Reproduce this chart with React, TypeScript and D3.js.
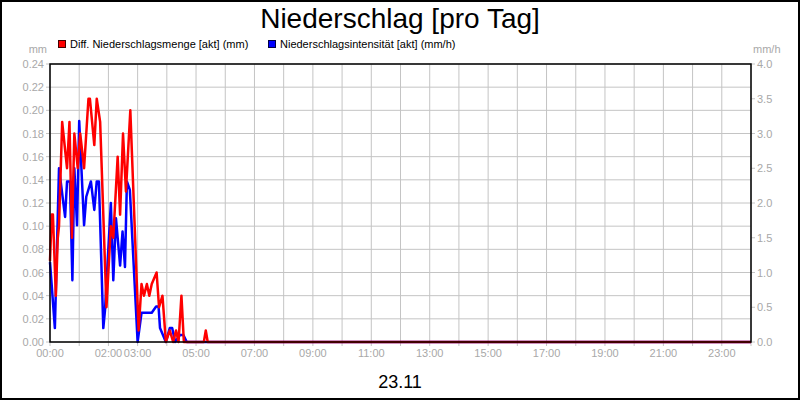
import * as d3 from "d3";
import React from "react";

// Zeitpunkte in Minuten seit 00:00
const mengeZeit = [0, 3.5, 6, 12, 16, 18.5, 25, 35, 40, 45, 50, 57, 62, 70, 79, 82, 91, 96, 103, 116, 125, 130, 139, 144, 150, 156, 165, 182, 188, 193, 199, 204, 209, 219, 224, 231, 238, 246, 253, 259, 264, 270, 275, 316, 320, 324, 1440];
const mengeWert = [0.07, 0.11, 0.11, 0.04, 0.09, 0.1, 0.19, 0.15, 0.19, 0.09, 0.18, 0.15, 0.18, 0.15, 0.21, 0.21, 0.17, 0.21, 0.19, 0.03, 0.1, 0.09, 0.16, 0.11, 0.18, 0.13, 0.2, 0.01, 0.05, 0.04, 0.05, 0.04, 0.05, 0.06, 0.03, 0.04, 0, 0.01, 0, 0.01, 0, 0.04, 0, 0, 0.01, 0, 0];

const intensZeit = [0, 10, 18.5, 31, 35, 41, 46, 50, 55.5, 60, 70, 74.5, 84, 91, 96, 100.5, 109.5, 113, 125, 130, 135.5, 144, 149, 154, 158, 164, 180, 188, 209, 218, 223, 226, 238, 246, 251, 257, 267, 274, 281, 1440];
const intensWert = [1.15, 0.2, 2.5, 1.8, 2.31, 2.31, 0.89, 2.5, 1.68, 3.18, 1.68, 2.09, 2.31, 1.9, 2.31, 2.31, 0.2, 0.46, 2.0, 0.89, 1.78, 1.1, 1.59, 1.08, 2.31, 2.19, 0, 0.42, 0.42, 0.51, 0.51, 0.2, 0, 0.2, 0.2, 0, 0.1, 0.1, 0, 0];

const xLabelStunden = [0, 2, 3, 5, 7, 9, 11, 13, 15, 17, 19, 21, 23];
const linksTicks = d3.range(0, 0.2401, 0.02);
const rechtsTicks = d3.range(0, 4.01, 0.5);

const W = 800;
const H = 400;
const L = 50;
const R = 751;
const T = 64;
const B = 342;
const grau = "#a8a8a8";
const gitter = "#c4c4c4";
const font = "'Liberation Sans', Arial, sans-serif";

export default function App() {
  const x = d3.scaleLinear().domain([0, 1440]).range([L, R]);
  const yL = d3.scaleLinear().domain([0, 0.24]).range([B, T]);
  const yR = d3.scaleLinear().domain([0, 4]).range([B, T]);

  const lineMenge = d3
    .line<number>()
    .x((d, i) => x(mengeZeit[i]))
    .y((d) => yL(d));
  const lineIntens = d3
    .line<number>()
    .x((d, i) => x(intensZeit[i]))
    .y((d) => yR(d));

  const stunden = d3.range(0, 25);

  return (
    <div style={{ position: "absolute", left: 0, top: 0 }}>
      <svg width={W} height={H} style={{ display: "block", fontFamily: font }}>
        <rect x={0} y={0} width={W} height={H} fill="#fff" />
        <rect x={1} y={1} width={W - 2} height={H - 2} fill="none" stroke="#000" strokeWidth={2} />

        <text x={400} y={28} textAnchor="middle" fontSize={28} fill="#000">
          Niederschlag [pro Tag]
        </text>

        {/* Legende */}
        <rect x={58.5} y={40.5} width={7} height={7} fill="#ff0000" stroke="#400" strokeWidth={1} />
        <text x={70} y={48} fontSize={11} fill="#000">
          Diff. Niederschlagsmenge [akt] (mm)
        </text>
        <rect x={268.5} y={40.5} width={7} height={7} fill="#0000ff" stroke="#004" strokeWidth={1} />
        <text x={280} y={48} fontSize={11} fill="#000">
          Niederschlagsintensität [akt] (mm/h)
        </text>

        <text x={47} y={53} fontSize={11} fill={grau} textAnchor="end">
          mm
        </text>
        <text x={753} y={53} fontSize={11} fill={grau}>
          mm/h
        </text>

        {/* Gitter */}
        {stunden.map((h) => (
          <line key={"v" + h} x1={x(h * 60)} x2={x(h * 60)} y1={T} y2={B + 4} stroke={gitter} />
        ))}
        {linksTicks.map((v) => (
          <line key={"h" + v} x1={L - 4} x2={R} y1={yL(v)} y2={yL(v)} stroke={gitter} />
        ))}
        {rechtsTicks.map((v) => (
          <line key={"r" + v} x1={R} x2={R + 4} y1={yR(v)} y2={yR(v)} stroke={gitter} />
        ))}

        {/* Achsenbeschriftung */}
        {linksTicks.map((v) => (
          <text key={"lt" + v} x={L - 6} y={yL(v) + 4} fontSize={11} fill={grau} textAnchor="end">
            {v.toFixed(2)}
          </text>
        ))}
        {rechtsTicks.map((v) => (
          <text key={"rt" + v} x={R + 6} y={yR(v) + 4} fontSize={11} fill={grau}>
            {v.toFixed(1)}
          </text>
        ))}
        {xLabelStunden.map((h) => (
          <text key={"xt" + h} x={x(h * 60)} y={357} fontSize={11} fill={grau} textAnchor="middle">
            {String(h).padStart(2, "0") + ":00"}
          </text>
        ))}

        {/* Daten */}
        <path d={lineIntens(intensWert) || ""} fill="none" stroke="#0000ff" strokeWidth={2.5} strokeLinejoin="round" />
        <path d={lineMenge(mengeWert) || ""} fill="none" stroke="#ff0000" strokeWidth={2.5} strokeLinejoin="round" />

        <rect x={L} y={T} width={R - L} height={B - T} fill="none" stroke="#000" strokeWidth={1.5} />

        <text x={400} y={388} fontSize={18} fill="#000" textAnchor="middle">
          23.11
        </text>
      </svg>
    </div>
  );
}
